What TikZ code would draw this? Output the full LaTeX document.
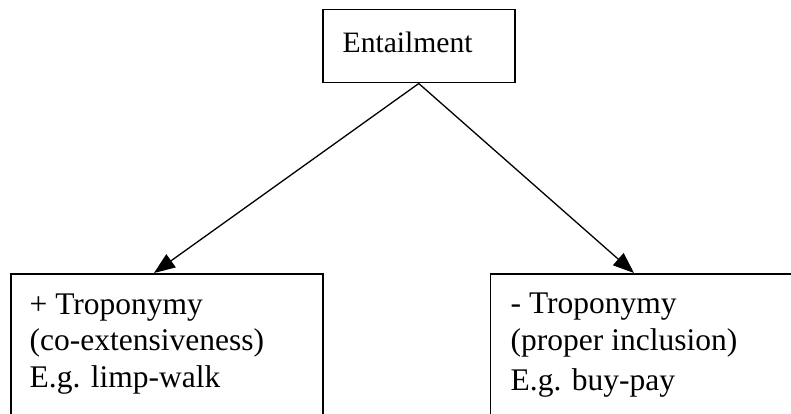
\documentclass[tikz,border=0pt]{standalone}
\usepackage{fontspec}
\setmainfont{Liberation Serif}
\usetikzlibrary{arrows.meta}
\tikzset{
  boxshape/.style={draw, line width=1.5pt, rectangle, inner sep=0pt},
  txt/.style={anchor=base west, inner sep=0pt, font=\fontsize{31.5}{36}\selectfont},
  toptxt/.style={anchor=base west, inner sep=0pt, font=\fontsize{29.6}{34}\selectfont},
  arr/.style={line width=1.3pt, -{Triangle[length=21pt,width=16pt]}}
}
\begin{document}
\begin{tikzpicture}[x=1pt,y=-1pt]
\useasboundingbox (0,0) rectangle (791,414);
\clip (0,0) rectangle (791,414);
% top box
\node[boxshape, minimum width=192pt, minimum height=73pt, anchor=north west] (ent) at (322,9) {};
\node[toptxt] (enttext) at (342.5,52.3) {Entailment};
% bottom boxes (cut off by the picture's edges)
\node[boxshape, minimum width=312pt, minimum height=170pt, anchor=north west] (lbox) at (10,273) {};
\node[boxshape, minimum width=330pt, minimum height=170pt, anchor=north west] (rbox) at (489.5,273) {};
% texts
\node[txt] (l1) at (29.5,314) {+ Troponymy};
\node[txt] (l2) at (29.5,350) {(co-extensiveness)};
\node[txt] (l3) at (29.5,387) {E.g. limp-walk};
\node[txt] (r1) at (510.5,313) {- Troponymy};
\node[txt] (r2) at (510.5,350) {(proper inclusion)};
\node[txt] (r3) at (510.5,390) {E.g. buy-pay};
% arrow ends on the boxes' top edges
\coordinate (ltip) at (154,273);
\coordinate (rtip) at (634,273);
\draw[arr] (ent.south) -- (ltip);
\draw[arr] (ent.south) -- (rtip);
\end{tikzpicture}
\end{document}
